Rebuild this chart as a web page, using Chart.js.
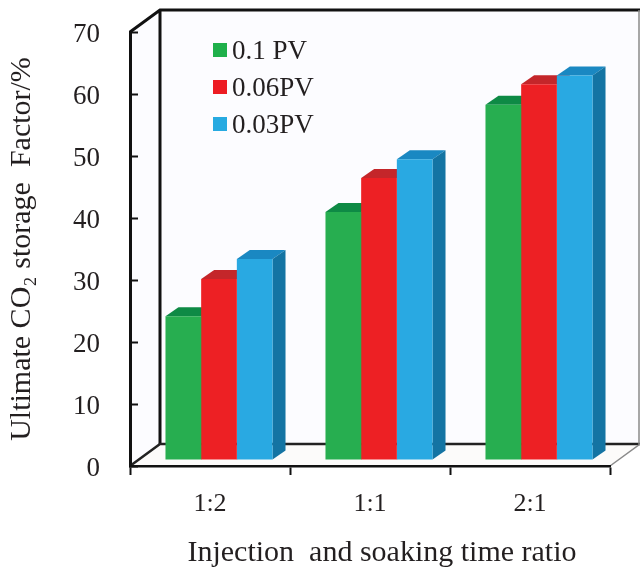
<!DOCTYPE html>
<html>
<head>
<meta charset="utf-8">
<style>html,body{margin:0;padding:0;background:#fff}canvas{display:block}</style>
<script src="https://cdn.jsdelivr.net/npm/chart.js@4"></script>
</head>
<body>
<div style="width:640px;height:568px"><canvas id="c" width="640" height="568"></canvas></div>
<script>
const categories = ['1:2', '1:1', '2:1'];
const seriesLow = [23.2, 40.0, 57.3];
const seriesMid = [29.2, 45.5, 60.6];
const seriesHigh = [32.4, 48.5, 62.0];
const seriesNames = ['0.1 PV', '0.06PV', '0.03PV'];
const frontColors = ['#27ae50', '#ed2024', '#29a9e2'];
const topColors = ['#0e8a45', '#c4262a', '#1a88c2'];
const sideColors = ['#0e8a45', '#b81f22', '#1474a3'];
const legendColors = ['#1fb04b', '#ed1c24', '#27aae1'];
const yTitle = 'Ultimate CO\u2082 storage  Factor/%';
const xTitle = 'Injection  and soaking time ratio';
const serif = '"Liberation Serif"';
const ink = '#231f20';

const wallDepth = {x: 30, y: -22};
const barShift = {x: 9, y: -6};
const barDepth = {x: 13, y: -9};

const scene = {
  id: 'scene',
  beforeDraw(chart) {
    const {ctx, chartArea: a} = chart;
    const d = wallDepth;
    ctx.save();
    ctx.fillStyle = '#fcfcff';
    ctx.beginPath();
    ctx.moveTo(a.left, a.top);
    ctx.lineTo(a.left + d.x, a.top + d.y);
    ctx.lineTo(a.right + d.x, a.top + d.y);
    ctx.lineTo(a.right + d.x, a.bottom + d.y);
    ctx.lineTo(a.right, a.bottom);
    ctx.lineTo(a.left, a.bottom);
    ctx.closePath();
    ctx.fill();
    ctx.fillStyle = '#fcfbfa';
    ctx.beginPath();
    ctx.moveTo(a.left, a.bottom);
    ctx.lineTo(a.left + d.x, a.bottom + d.y);
    ctx.lineTo(a.right + d.x, a.bottom + d.y);
    ctx.lineTo(a.right, a.bottom);
    ctx.closePath();
    ctx.fill();

    ctx.strokeStyle = '#111';
    ctx.lineWidth = 3;
    ctx.lineJoin = 'miter';
    ctx.beginPath();
    ctx.moveTo(a.left, a.top);
    ctx.lineTo(a.left + d.x, a.top + d.y);
    ctx.lineTo(a.right + d.x, a.top + d.y);
    ctx.moveTo(a.left + d.x, a.top + d.y);
    ctx.lineTo(a.left + d.x, a.bottom + d.y);
    ctx.stroke();
    ctx.lineWidth = 2.5;
    ctx.strokeStyle = '#222';
    ctx.beginPath();
    ctx.moveTo(a.left, a.bottom);
    ctx.lineTo(a.left + d.x, a.bottom + d.y);
    ctx.lineTo(a.right + d.x, a.bottom + d.y);
    ctx.stroke();
    ctx.lineWidth = 1.5;
    ctx.strokeStyle = '#8a8a8a';
    ctx.beginPath();
    ctx.moveTo(a.right, a.bottom);
    ctx.lineTo(a.right + d.x, a.bottom + d.y);
    ctx.moveTo(a.right + d.x - 1, a.top + d.y);
    ctx.lineTo(a.right + d.x - 1, a.bottom + d.y);
    ctx.stroke();
    ctx.restore();
  },
  beforeDatasetsDraw(chart) {
    const {ctx} = chart;
    ctx.save();
    ctx.translate(barShift.x, barShift.y);
    const d = barDepth;
    chart.data.datasets.forEach((ds, i) => {
      chart.getDatasetMeta(i).data.forEach(bar => {
        const l = bar.x - bar.width / 2, r = bar.x + bar.width / 2;
        ctx.fillStyle = topColors[i];
        ctx.beginPath();
        ctx.moveTo(l, bar.y);
        ctx.lineTo(l + d.x, bar.y + d.y);
        ctx.lineTo(r + d.x, bar.y + d.y);
        ctx.lineTo(r, bar.y);
        ctx.closePath();
        ctx.fill();
        ctx.fillStyle = sideColors[i];
        ctx.beginPath();
        ctx.moveTo(r, bar.y);
        ctx.lineTo(r + d.x, bar.y + d.y);
        ctx.lineTo(r + d.x, bar.base + d.y);
        ctx.lineTo(r, bar.base);
        ctx.closePath();
        ctx.fill();
      });
    });
  },
  afterDatasetsDraw(chart) {
    const {ctx} = chart;
    ctx.restore();
    ctx.save();
    ctx.font = '27px ' + serif;
    ctx.textBaseline = 'middle';
    ctx.textAlign = 'left';
    chart.data.datasets.forEach((ds, i) => {
      const y = 50 + i * 37;
      ctx.fillStyle = legendColors[i];
      ctx.fillRect(213, y - 7, 14, 14);
      ctx.fillStyle = ink;
      ctx.fillText(ds.label, 232, y + 2);
    });
    ctx.font = '30px ' + serif;
    ctx.textAlign = 'center';
    ctx.fillText(xTitle, 382, 553);
    ctx.restore();
  }
};

new Chart(document.getElementById('c'), {
  type: 'bar',
  plugins: [scene],
  data: {
    labels: categories,
    datasets: [
      {label: seriesNames[0], data: seriesLow, backgroundColor: frontColors[0]},
      {label: seriesNames[1], data: seriesMid, backgroundColor: frontColors[1]},
      {label: seriesNames[2], data: seriesHigh, backgroundColor: frontColors[2]}
    ]
  },
  options: {
    responsive: false,
    animation: false,
    clip: false,
    layout: {autoPadding: false, padding: {top: 32, right: 30, bottom: 0, left: 0}},
    datasets: {bar: {categoryPercentage: 0.669, barPercentage: 1, clip: false}},
    plugins: {legend: {display: false}, tooltip: {enabled: false}},
    scales: {
      x: {
        afterFit(s) { s.height = 102; s.paddingLeft = 0; s.paddingRight = 0; },
        grid: {offset: true, drawOnChartArea: false, drawTicks: true, tickLength: 9, color: '#111', tickWidth: 2},
        border: {color: '#111', width: 2.5},
        ticks: {font: {family: serif, size: 26}, color: ink, padding: 14, maxRotation: 0}
      },
      y: {
        min: 0,
        max: 70,
        afterFit(s) { s.width = 130; s.paddingTop = 0; s.paddingBottom = 0; },
        grid: {drawOnChartArea: false, tickLength: -8, color: '#111', tickWidth: 2},
        border: {color: '#111', width: 3},
        ticks: {stepSize: 10, font: {family: serif, size: 27}, color: ink, padding: 38, labelOffset: 3},
        title: {display: true, text: yTitle, font: {family: serif, size: 30}, color: ink, padding: {top: 4, bottom: 0}}
      }
    }
  }
});
</script>
</body>
</html>
